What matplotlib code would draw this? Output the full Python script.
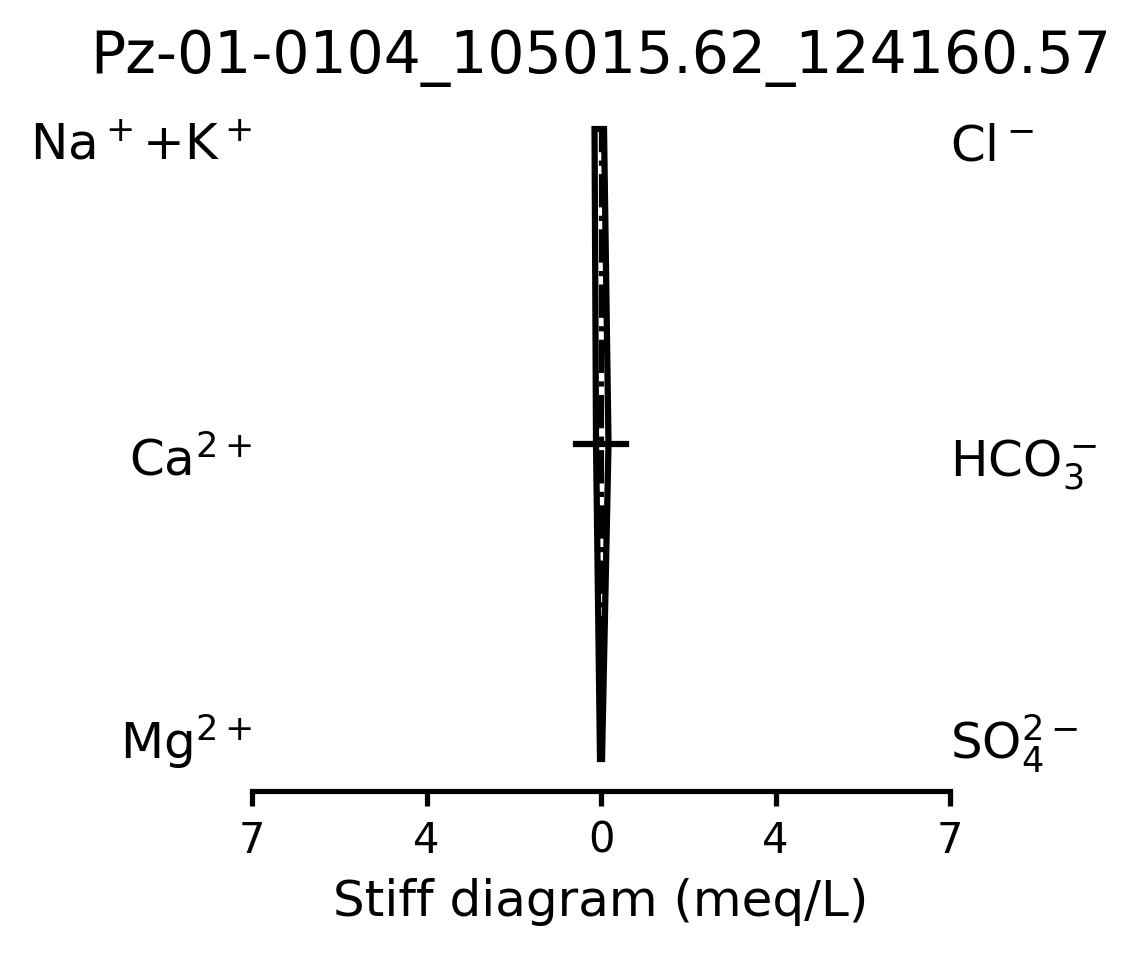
import numpy as np
import matplotlib
matplotlib.use('Agg')
import matplotlib.pyplot as plt

# sample name
sample = 'Pz-01-0104_105015.62_124160.57'

# ion concentrations (meq/L)
cations = ['Na$^+$+K$^+$', 'Ca$^{2+}$', 'Mg$^{2+}$']
anions = ['Cl$^-$', 'HCO$_3^-$', 'SO$_4^{2-}$']
cation_meq = [0.13, 0.10, 0.02]   # Na+K, Ca, Mg
anion_meq = [0.06, 0.15, 0.02]    # Cl, HCO3, SO4
rows = [2, 1, 0]

# x axis
x_max = 7
tick_pos = [-7, -3.5, 0, 3.5, 7]
tick_labels = ['7', '4', '0', '4', '7']

fig = plt.figure(figsize=(1141 / 300, 959 / 300), dpi=300)
ax = fig.add_axes([0.2209, 0.1757, 0.6117, 0.7226])

# polygon: cations on the left, anions on the right
x = [-c for c in cation_meq] + anion_meq[::-1]
y = rows + rows[::-1]
ax.fill(x, y, facecolor='w', edgecolor='k', lw=1.5)
ax.plot([0, 0], [rows[-1], rows[0]], 'k-.', lw=1.25)
ax.plot([-0.5, 0.5], [1, 1], 'k-', lw=1.5)

# ion labels
text_y = [1.9, 0.9, 0.0]
for lab, ty in zip(cations, text_y):
    ax.text(-x_max, ty, lab, ha='right', va='baseline', fontsize=12)
for lab, ty in zip(anions, text_y):
    ax.text(x_max, ty, lab, ha='left', va='baseline', fontsize=12)

ax.set_xlim(-x_max, x_max)
ax.set_ylim(-0.1, 2.1)
ax.set_xticks(tick_pos)
ax.set_xticklabels(tick_labels, fontsize=10)
ax.set_yticks([])
ax.tick_params(axis='x', width=1.25, length=3.5)
for s in ['top', 'left', 'right']:
    ax.spines[s].set_visible(False)
ax.spines['bottom'].set_linewidth(1.25)
ax.set_xlabel('Stiff diagram (meq/L)', fontsize=12)
ax.set_title(sample, fontsize=14)

fig.savefig('out.png', dpi=300)
